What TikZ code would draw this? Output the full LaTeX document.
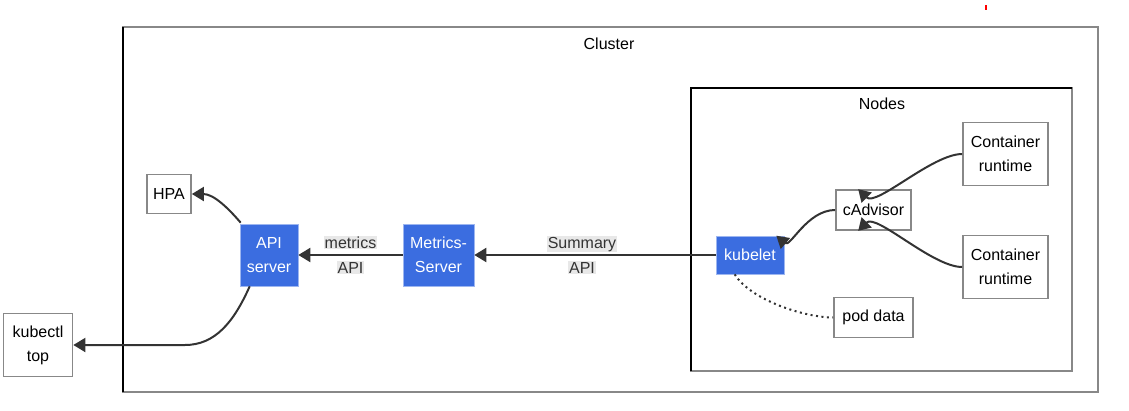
\documentclass[tikz,border=0pt]{standalone}
\usepackage{fontspec}
\setmainfont{Liberation Sans}
\usetikzlibrary{arrows.meta}
\definecolor{edgec}{HTML}{333333}
\definecolor{boxline}{HTML}{888888}
\definecolor{kblue}{HTML}{3B6DE0}
\definecolor{kblueline}{HTML}{9DB6F0}
\definecolor{lblbg}{HTML}{E8E8E8}
\tikzset{
  x=1pt, y=1pt,
  every node/.style={font=\fontsize{16}{24}\selectfont, align=center, inner sep=0pt},
  plain/.style={draw=boxline, line width=1.7pt, fill=white, text=black},
  blue/.style={draw=kblueline, line width=0.6pt, fill=kblue, text=white},
  edge/.style={draw=edgec, line width=2pt, -{Triangle[length=12pt,width=14pt]}},
  link/.style={draw=edgec, line width=2pt, dash pattern=on 2pt off 3.5pt},
  frame/.style={draw=boxline, line width=1.6pt},
  lbl/.style={font=\fontsize{16}{25}\selectfont, text=black!80},
}
\newcommand{\lbox}[1]{{\setlength{\fboxsep}{1pt}\colorbox{lblbg}{#1}}}
\begin{document}
\begin{tikzpicture}
\useasboundingbox (0,0) rectangle (1129,-410);

% stray red tick near the top edge
\fill[red] (985,-5) rectangle (987,-10);

% cluster frame
\draw[frame] (123,-27) rectangle (1098,-392);
\draw[black, line width=1.4pt] (123,-27) -- (123,-392);
\node (clustertitle) at (609,-44) {Cluster};

% nodes frame
\draw[frame] (691,-88) rectangle (1072,-371);
\draw[black, line width=1.4pt] (691,-371) -- (691,-88) -- (1072,-88);
\node (nodestitle) at (882,-104) {Nodes};

% boxes
\node[plain, minimum width=44pt, minimum height=39pt] (hpa) at (169,-194) {HPA};
\node[blue, minimum width=58pt, minimum height=62pt] (api) at (269,-255) {API\\server};
\node[plain, minimum width=69pt, minimum height=63pt] (kubectl) at (38,-345) {kubectl\\top};
\node[blue, minimum width=71pt, minimum height=62pt] (ms) at (438.5,-255) {Metrics-\\Server};
\node[blue, minimum width=68pt, minimum height=38pt] (kubelet) at (750,-255) {kubelet};
\node[plain, minimum width=75pt, minimum height=40pt] (cadv) at (873.5,-210) {cAdvisor};
\node[plain, minimum width=85pt, minimum height=63pt] (cr1) at (1005.5,-154) {Container\\runtime};
\node[plain, minimum width=85pt, minimum height=63pt] (cr2) at (1005.5,-267) {Container\\runtime};
\node[plain, minimum width=79pt, minimum height=40pt] (pod) at (873.5,-317.5) {pod data};

% connectors
\draw[edge] (ms.west) -- (api.east);
\draw[edge] (kubelet.west) -- (ms.east);
\node[lbl] (lblmetrics) at (350.5,-255) {\lbox{metrics}\\\lbox{API}};
\node[lbl] (lblsummary) at (582,-255) {\lbox{Summary}\\\lbox{API}};

\draw[edge] ([xshift=1pt,yshift=1pt]api.north west)
  .. controls +(-12,14) and +(22,0) .. (hpa.east);
\draw[edge] ([xshift=10pt]api.south west)
  .. controls +(-16,-36) and +(30,0) .. (185,-345) -- (kubectl.east);
\draw[edge] (cadv.west) .. controls +(-28,0) and +(14,-12) .. ([xshift=-8pt]kubelet.north east);
\draw[edge] (cr1.west) .. controls +(-30,0) and +(18,-18) .. ([xshift=23pt]cadv.north west);
\draw[edge] (cr2.west) .. controls +(-30,0) and +(18,18) .. ([xshift=23pt]cadv.south west);
\draw[link] ([xshift=19pt]kubelet.south west) .. controls +(16,-26) and +(-28,0) .. (pod.west);
\end{tikzpicture}
\end{document}
